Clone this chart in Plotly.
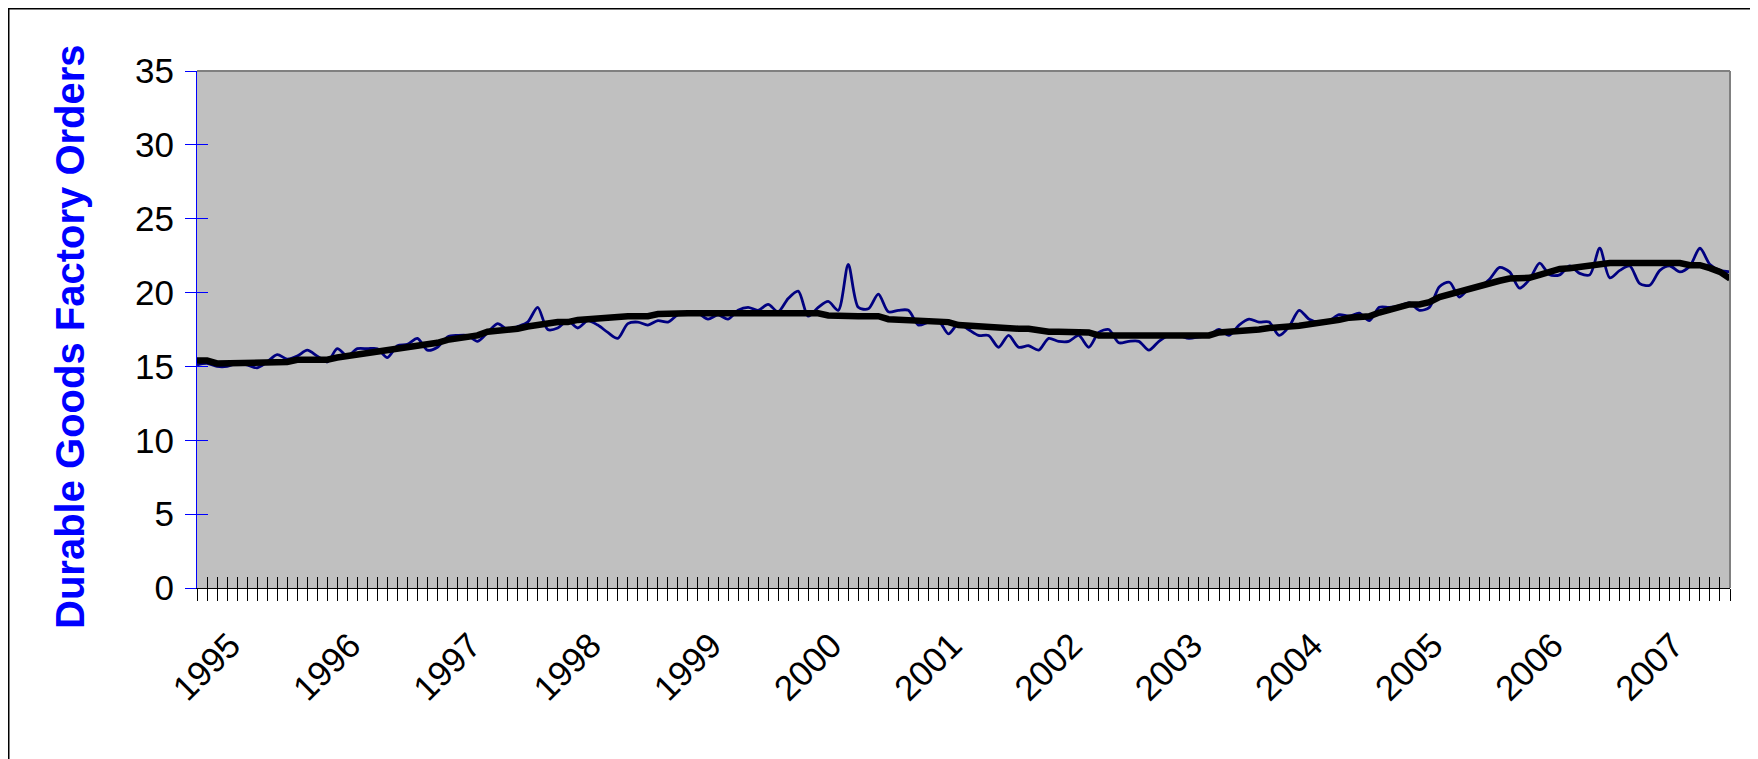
import pandas as pd
import plotly.graph_objects as go

# ---- data (monthly, Sep 1994 - Jun 2007) ----
months = pd.date_range("1994-09-01", periods=154, freq="MS")

orders = [15.1, 15.2, 15.0, 15.0, 15.2, 15.1, 14.9, 15.3, 15.8, 15.5,
          15.7, 16.1, 15.7, 15.3, 16.2, 15.7, 16.2, 16.2, 16.2, 15.6,
          16.4, 16.5, 16.9, 16.1, 16.3, 17.0, 17.1, 17.1, 16.7, 17.3,
          17.9, 17.5, 17.7, 18.0, 19.0, 17.5, 17.6, 18.1, 17.6, 18.1,
          17.8, 17.3, 16.9, 17.9, 18.0, 17.8, 18.1, 18.0, 18.5, 18.6,
          18.6, 18.2, 18.5, 18.2, 18.8, 19.0, 18.8, 19.2, 18.7, 19.6,
          20.1, 18.4, 19.0, 19.4, 18.8, 21.9, 19.0, 18.9, 19.9, 18.7,
          18.8, 18.8, 17.8, 18.0, 18.1, 17.2, 17.9, 17.5, 17.1, 17.1,
          16.3, 17.1, 16.3, 16.4, 16.1, 16.9, 16.7, 16.7, 17.1, 16.3,
          17.3, 17.5, 16.6, 16.7, 16.7, 16.1, 16.7, 17.1, 17.1, 16.9,
          17.0, 17.1, 17.5, 17.1, 17.8, 18.2, 18.0, 18.0, 17.1, 17.7,
          18.8, 18.2, 18.0, 18.1, 18.5, 18.4, 18.6, 18.1, 19.0, 19.0,
          19.1, 19.3, 18.8, 19.0, 20.4, 20.7, 19.7, 20.3, 20.4, 20.9,
          21.7, 21.4, 20.3, 20.9, 22.0, 21.2, 21.2, 21.8, 21.3, 21.2,
          23.0, 21.0, 21.5, 21.8, 20.6, 20.5, 21.5, 21.8, 21.4, 21.8,
          23.0, 21.9, 21.5, 21.4]

trend = [15.4, 15.4, 15.2, 15.2, 15.2, 15.2, 15.2, 15.2, 15.2, 15.3,
         15.45, 15.45, 15.45, 15.45, 15.6, 15.7, 15.8, 15.9, 15.95, 16.05,
         16.2, 16.3, 16.45, 16.5, 16.6, 16.8, 16.9, 16.95, 17.1, 17.35,
         17.4, 17.5, 17.55, 17.7, 17.75, 17.9, 18.0, 18.0, 18.15, 18.2,
         18.3, 18.4, 18.4, 18.4, 18.4, 18.4, 18.55, 18.6, 18.6, 18.6,
         18.6, 18.6, 18.6, 18.6, 18.6, 18.6, 18.6, 18.6, 18.6, 18.6,
         18.6, 18.6, 18.6, 18.45, 18.4, 18.4, 18.4, 18.4, 18.4, 18.2,
         18.15, 18.15, 18.1, 18.0, 18.0, 18.0, 17.8, 17.75, 17.75, 17.7,
         17.55, 17.55, 17.55, 17.55, 17.4, 17.35, 17.35, 17.35, 17.35, 17.3,
         17.1, 17.1, 17.1, 17.1, 17.1, 17.1, 17.1, 17.1, 17.1, 17.1,
         17.1, 17.1, 17.3, 17.35, 17.35, 17.35, 17.5, 17.6, 17.6, 17.7,
         17.75, 17.85, 17.95, 17.95, 18.15, 18.3, 18.35, 18.4, 18.65, 18.8,
         19.0, 19.2, 19.2, 19.35, 19.7, 19.9, 20.1, 20.3, 20.45, 20.6,
         20.8, 20.95, 21.0, 21.0, 21.2, 21.4, 21.6, 21.65, 21.75, 21.85,
         21.9, 22.0, 22.0, 22.0, 22.0, 22.0, 22.0, 22.0, 22.0, 21.85,
         21.85, 21.65, 21.4, 20.95]

y_title = "Durable Goods Factory Orders"
y_ticks = [0, 5, 10, 15, 20, 25, 30, 35]

# ---- derived axis labelling ----
idx = list(range(len(months)))
tick_text = [str(m.year) + "\u00a0" if m.month == 1 else "" for m in months]

FONT = "Liberation Sans, Arial, sans-serif"
OFF = 8                      # browser body margin
W, H = 1758 - OFF, 759 - OFF
L, T = 197 - OFF, 71 - OFF
R = W - (1730 - OFF)
B = H - (588 - OFF)
pw, ph = W - L - R, H - T - B


def px_x(px):
    return (px - OFF - L) / pw


def px_y(py):
    return (H - B - (py - OFF)) / ph


fig = go.Figure()
fig.add_trace(go.Scatter(x=idx, y=orders, mode="lines",
                         line=dict(color="#000080", width=2.8, shape="spline", smoothing=0.8),
                         showlegend=False, hoverinfo="skip"))
fig.add_trace(go.Scatter(x=idx, y=trend, mode="lines",
                         line=dict(color="#000000", width=6.5),
                         showlegend=False, hoverinfo="skip"))
# invisible trace on the overlay axes (for the crossing tick marks)
fig.add_trace(go.Scatter(x=[idx[0]], y=[y_ticks[0]], xaxis="x2", yaxis="y2",
                         mode="markers", marker=dict(opacity=0), showlegend=False,
                         hoverinfo="skip"))

xr = [idx[0], idx[-1]]
yr = [y_ticks[0], y_ticks[-1]]

fig.update_layout(
    width=W, height=H,
    margin=dict(l=L, r=R, t=T, b=B, autoexpand=False),
    paper_bgcolor="white",
    plot_bgcolor="#C0C0C0",
    font=dict(family=FONT, color="black"),
    xaxis=dict(range=xr, tickmode="array", tickvals=idx, ticktext=tick_text,
               ticks="outside", ticklen=12, tickwidth=1, tickcolor="black",
               showline=True, linecolor="black", linewidth=1,
               showgrid=False, zeroline=False, tickangle=-45,
               ticklabelstandoff=3,
               tickfont=dict(size=35, family=FONT, color="black")),
    xaxis2=dict(overlaying="x", range=xr, tickmode="array", tickvals=idx,
                ticks="inside", ticklen=11, tickwidth=1, tickcolor="black",
                showticklabels=False, showline=False, showgrid=False, zeroline=False,
                anchor="y"),
    yaxis=dict(range=yr, tickmode="array", tickvals=y_ticks,
               ticks="outside", ticklen=11, tickwidth=1, tickcolor="#0000FF",
               showline=True, linecolor="#0000FF", linewidth=1,
               showgrid=False, zeroline=False, ticklabelstandoff=4,
               tickfont=dict(size=35, family=FONT, color="black")),
    yaxis2=dict(overlaying="y", range=yr, tickmode="array", tickvals=y_ticks,
                ticks="inside", ticklen=11, tickwidth=1, tickcolor="#0000FF",
                showticklabels=False, showline=False, showgrid=False, zeroline=False,
                anchor="x", side="left"),
    shapes=[
        dict(type="line", xref="paper", yref="paper", x0=0, x1=1, y0=1, y1=1,
             line=dict(color="#808080", width=2)),
        dict(type="line", xref="paper", yref="paper", x0=1, x1=1, y0=0, y1=1,
             line=dict(color="#808080", width=2)),
        dict(type="rect", xref="paper", yref="paper",
             x0=px_x(8.75), x1=px_x(1755), y0=px_y(770), y1=px_y(8.75),
             line=dict(color="black", width=1.5)),
    ],
    annotations=[
        dict(text=f"<b>{y_title}</b>", textangle=-90, showarrow=False,
             xref="paper", yref="paper", x=px_x(70), y=px_y(337),
             xanchor="center", yanchor="middle",
             font=dict(size=40, family=FONT, color="#0000FF")),
    ],
)

fig.write_html("out.html")
